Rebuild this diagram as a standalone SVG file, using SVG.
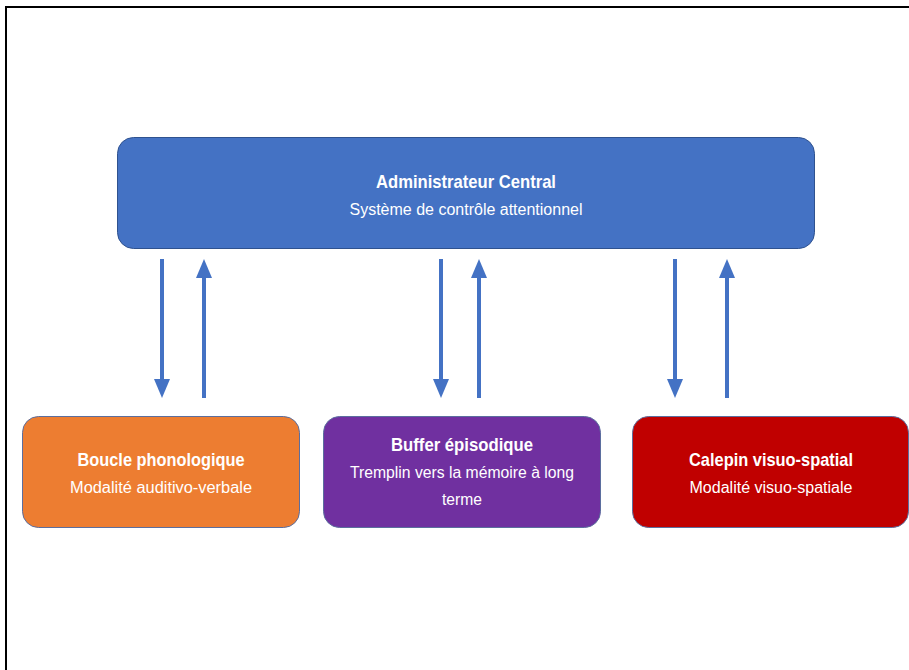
<svg xmlns="http://www.w3.org/2000/svg" width="909" height="670" viewBox="0 0 909 670">
<defs>
<style>
.box{stroke-width:1}
.t{font-family:"Liberation Sans",Arial,sans-serif;fill:#fff;text-anchor:middle}
.b{font-weight:bold;font-size:18.5px}
.s{font-size:16px}
.arr{stroke:#4472C4;stroke-width:4;fill:none}
</style>
<marker id="ah" markerUnits="userSpaceOnUse" markerWidth="20" markerHeight="16" refX="0" refY="8" viewBox="0 0 20 16" orient="auto">
<path d="M0,0 L19,8 L0,16 Z" fill="#4472C4"/>
</marker>
</defs>
<rect x="0" y="0" width="909" height="670" fill="#fff"/>
<path d="M6,670 V7 H909" fill="none" stroke="#000" stroke-width="2"/>
<g id="admin">
<rect class="box" x="117.5" y="137.5" width="697" height="111" rx="16" fill="#4472C4" stroke="#2F528F"/>
<text class="t b" x="466" y="188" textLength="180" lengthAdjust="spacingAndGlyphs">Administrateur Central</text>
<text class="t s" x="466" y="215" textLength="233" lengthAdjust="spacingAndGlyphs">Système de contrôle attentionnel</text>
</g>
<g id="boucle">
<rect class="box" x="22.5" y="416.5" width="277" height="111" rx="16" fill="#ED7D31" stroke="#5B6E9E"/>
<text class="t b" x="161" y="466" textLength="167" lengthAdjust="spacingAndGlyphs">Boucle phonologique</text>
<text class="t s" x="161" y="493" textLength="182" lengthAdjust="spacingAndGlyphs">Modalité auditivo-verbale</text>
</g>
<g id="buffer">
<rect class="box" x="323.5" y="416.5" width="277" height="111" rx="16" fill="#7030A0" stroke="#5B6E9E"/>
<text class="t b" x="462" y="451" textLength="142" lengthAdjust="spacingAndGlyphs">Buffer épisodique</text>
<text class="t s" x="462" y="478" textLength="224" lengthAdjust="spacingAndGlyphs">Tremplin vers la mémoire à long</text>
<text class="t s" x="462" y="505" textLength="40" lengthAdjust="spacingAndGlyphs">terme</text>
</g>
<g id="calepin">
<rect class="box" x="632.5" y="416.5" width="276" height="111" rx="16" fill="#C00000" stroke="#5B6E9E"/>
<text class="t b" x="771" y="466" textLength="164" lengthAdjust="spacingAndGlyphs">Calepin visuo-spatial</text>
<text class="t s" x="771" y="493" textLength="163" lengthAdjust="spacingAndGlyphs">Modalité visuo-spatiale</text>
</g>
<g id="connectors">
<line class="arr" x1="162" y1="259" x2="162" y2="379" marker-end="url(#ah)"/>
<line class="arr" x1="204" y1="398" x2="204" y2="278" marker-end="url(#ah)"/>
<line class="arr" x1="441" y1="259" x2="441" y2="379" marker-end="url(#ah)"/>
<line class="arr" x1="479" y1="398" x2="479" y2="278" marker-end="url(#ah)"/>
<line class="arr" x1="675" y1="259" x2="675" y2="379" marker-end="url(#ah)"/>
<line class="arr" x1="727" y1="398" x2="727" y2="278" marker-end="url(#ah)"/>
</g>
</svg>
